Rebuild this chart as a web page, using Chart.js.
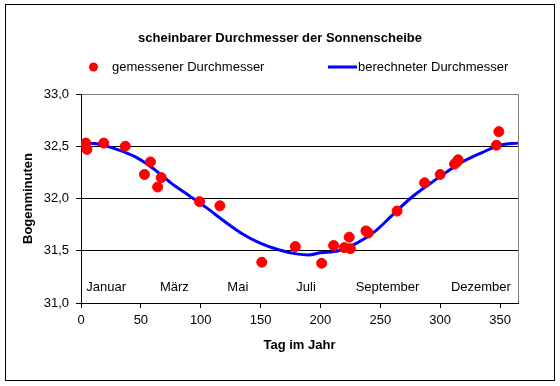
<!DOCTYPE html>
<html>
<head>
<meta charset="utf-8">
<script src="https://cdn.jsdelivr.net/npm/chart.js@4/dist/chart.umd.min.js"></script>
<style>
  html, body { margin: 0; padding: 0; background: #fff; }
  #wrap { width: 560px; height: 386px; position: relative; }
</style>
</head>
<body>
<div id="wrap"><canvas id="c" width="560" height="386"></canvas></div>
<script>
// ---- data ----
const tageGemessen = [4, 5, 19, 37, 53, 58, 64, 67, 99, 116, 151, 179, 201, 211, 220, 224, 225, 238, 240, 264, 287, 300, 312, 314, 315, 347, 349];
const durchmesserGemessen = [32.53, 32.47, 32.53, 32.50, 32.23, 32.35, 32.11, 32.20, 31.97, 31.93, 31.39, 31.54, 31.38, 31.55, 31.53, 31.63, 31.52, 31.69, 31.67, 31.88, 32.15, 32.23, 32.33, 32.35, 32.37, 32.51, 32.64];
const tageBerechnet = [0, 15, 30, 45, 60, 75, 90, 105, 120, 135, 150, 165, 180, 190, 200, 215, 230, 245, 260, 275, 290, 305, 320, 335, 350, 365];
const durchmesserBerechnet = [32.53, 32.52, 32.47, 32.40, 32.29, 32.15, 32.03, 31.91, 31.78, 31.66, 31.57, 31.51, 31.47, 31.46, 31.48, 31.50, 31.57, 31.68, 31.84, 32.00, 32.13, 32.25, 32.36, 32.44, 32.51, 32.53];
const xTickWerte = [0, 50, 100, 150, 200, 250, 300, 350];
const monatsNamen = ["Januar", "März", "Mai", "Juli", "September", "Dezember"];
const monatsTage = [21, 78, 131, 188, 256, 334];
const monatsHoehe = 31.15;

const FONT = "'Liberation Sans', Arial, sans-serif";

const decoPlugin = {
  id: 'deco',
  beforeDraw(chart) {
    const ctx = chart.ctx;
    ctx.save();
    ctx.fillStyle = '#fff';
    ctx.fillRect(0, 0, chart.width, chart.height);
    ctx.restore();
  },
  afterDraw(chart) {
    const ctx = chart.ctx;
    const a = chart.chartArea;
    ctx.save();
    // plot area right border (grey)
    ctx.strokeStyle = '#808080';
    ctx.lineWidth = 1;
    ctx.beginPath();
    ctx.moveTo(Math.round(a.right) + 0.5, a.top);
    ctx.lineTo(Math.round(a.right) + 0.5, a.bottom);
    ctx.stroke();
    // outer border
    ctx.strokeStyle = '#000';
    ctx.lineWidth = 1;
    ctx.strokeRect(5.5, 4.5, 549, 376);
    // title
    ctx.fillStyle = '#000';
    ctx.font = 'bold 13px ' + FONT;
    ctx.textAlign = 'center';
    ctx.textBaseline = 'middle';
    ctx.fillText('scheinbarer Durchmesser der Sonnenscheibe', 280, 38);
    // legend
    ctx.font = '13px ' + FONT;
    ctx.textAlign = 'left';
    ctx.fillStyle = '#ff0000';
    ctx.beginPath();
    ctx.arc(93.5, 67, 4.5, 0, Math.PI * 2);
    ctx.fill();
    ctx.fillStyle = '#000';
    ctx.fillText('gemessener Durchmesser', 112, 67.5);
    ctx.strokeStyle = '#0000ff';
    ctx.lineWidth = 3;
    ctx.beginPath();
    ctx.moveTo(328, 67);
    ctx.lineTo(357, 67);
    ctx.stroke();
    ctx.fillText('berechneter Durchmesser', 358, 67.5);
    // month labels
    const xs = chart.scales.x, ys = chart.scales.y;
    ctx.textAlign = 'center';
    for (let i = 0; i < monatsNamen.length; i++) {
      ctx.fillText(monatsNamen[i], xs.getPixelForValue(monatsTage[i]), ys.getPixelForValue(monatsHoehe));
    }
    ctx.restore();
  }
};

new Chart(document.getElementById('c'), {
  type: 'scatter',
  data: {
    datasets: [
      {
        label: 'gemessener Durchmesser',
        data: tageGemessen.map((d, i) => ({ x: d, y: durchmesserGemessen[i] })),
        backgroundColor: '#ff0000',
        borderColor: '#ff0000',
        pointRadius: 5,
        pointHoverRadius: 5,
        order: 0
      },
      {
        label: 'berechneter Durchmesser',
        type: 'line',
        data: tageBerechnet.map((d, i) => ({ x: d, y: durchmesserBerechnet[i] })),
        borderColor: '#0000ff',
        backgroundColor: '#0000ff',
        borderWidth: 3,
        pointRadius: 0,
        cubicInterpolationMode: 'monotone',
        fill: false,
        order: 1
      }
    ]
  },
  options: {
    responsive: false,
    animation: false,
    devicePixelRatio: 1,
    layout: { padding: { left: 17, top: 94, right: 42, bottom: 29 } },
    plugins: {
      legend: { display: false },
      title: { display: false },
      tooltip: { enabled: false }
    },
    scales: {
      x: {
        type: 'linear',
        min: 0,
        max: 365,
        afterFit(s) { s.height = 54; },
        afterBuildTicks(s) { s.ticks = xTickWerte.map(v => ({ value: v })); },
        ticks: {
          autoSkip: false,
          maxRotation: 0,
          color: '#000',
          padding: 5,
          font: { family: FONT, size: 13 },
          callback: v => String(v)
        },
        grid: { drawOnChartArea: false, drawTicks: true, tickLength: 5, tickColor: '#000' },
        border: { display: true, color: '#000', width: 1 },
        title: { display: true, text: 'Tag im Jahr', color: '#000', font: { family: FONT, size: 13, weight: 'bold' }, padding: { top: 4, bottom: 4 } }
      },
      y: {
        min: 31.0,
        max: 33.0,
        afterFit(s) { s.width = 64; },
        ticks: {
          stepSize: 0.5,
          color: '#000',
          padding: 7,
          font: { family: FONT, size: 13 },
          callback: v => Number(v).toFixed(1).replace('.', ',')
        },
        grid: {
          drawOnChartArea: true,
          drawTicks: true,
          tickLength: 5,
          tickColor: '#000',
          color: ctx => (ctx.tick && Math.abs(ctx.tick.value - 33) < 1e-6) ? '#808080' : '#000',
          lineWidth: 1
        },
        border: { display: true, color: '#000', width: 1 },
        title: { display: true, text: 'Bogenminuten', color: '#000', font: { family: FONT, size: 13, weight: 'bold' }, padding: { top: 4, bottom: 4 } }
      }
    }
  },
  plugins: [decoPlugin]
});
</script>
</body>
</html>
